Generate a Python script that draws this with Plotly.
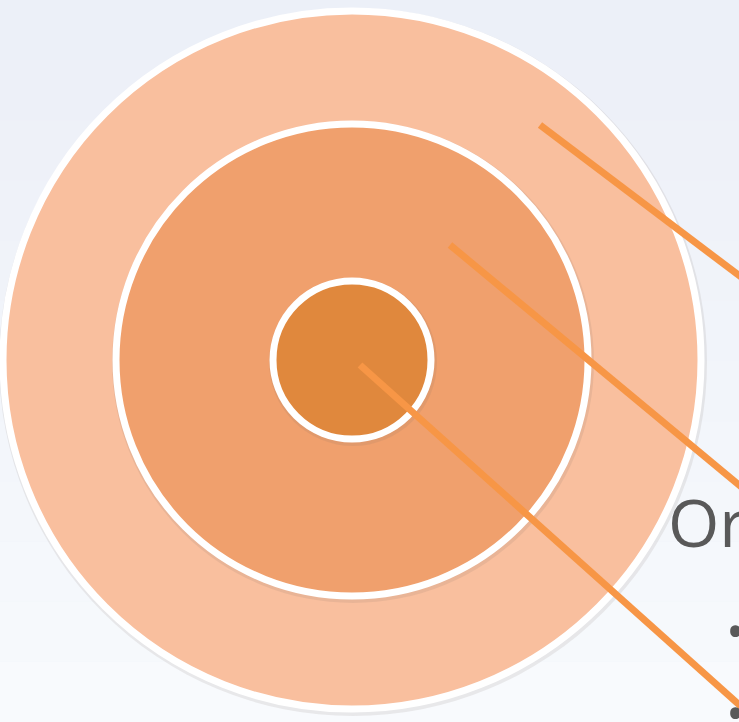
import plotly.graph_objects as go

# Diagram data
ring_names = ["outer", "middle", "inner"]
ring_radii = [349, 236, 79]
ring_colors = ["#F9BF9E", "#F0A06D", "#E0883D"]
center = (352, 360)

# leader lines: start (inside ring) and end (off to the right)
line_starts = [(540, 125), (450, 245), (360, 365)]
line_ends = [(745, 280), (745, 490), (745, 710)]

labels = ["Or", "•", "•"]
label_pos = [(666, 521), (724, 630), (724, 712)]
label_sizes = [66, 50, 50]

W, H = 739, 722
fig = go.Figure()

shapes = []
# background gradient imitation
bands = 12
for i in range(bands):
    t = i / (bands - 1)
    r = int(236 + (248 - 236) * t)
    g = int(240 + (250 - 240) * t)
    b = int(248 + (253 - 248) * t)
    shapes.append(dict(type="rect", xref="x", yref="y", x0=0, x1=W,
                       y0=H * i / bands, y1=H * (i + 1) / bands,
                       fillcolor=f"rgb({r},{g},{b})", line=dict(width=0), layer="below"))

cx, cy = center
for rad, col in zip(ring_radii, ring_colors):
    # soft shadow
    shapes.append(dict(type="circle", xref="x", yref="y",
                       x0=cx - rad - 4, x1=cx + rad + 6, y0=cy - rad - 3, y1=cy + rad + 7,
                       fillcolor="rgba(120,110,100,0.12)", line=dict(width=0)))
    shapes.append(dict(type="circle", xref="x", yref="y",
                       x0=cx - rad, x1=cx + rad, y0=cy - rad, y1=cy + rad,
                       fillcolor=col, line=dict(color="white", width=7)))

for (x0, y0), (x1, y1) in zip(line_starts, line_ends):
    shapes.append(dict(type="line", xref="x", yref="y", x0=x0, y0=y0, x1=x1, y1=y1,
                       line=dict(color="#F79646", width=7)))

annotations = []
for txt, (x, y), sz in zip(labels, label_pos, label_sizes):
    annotations.append(dict(x=x, y=y, xref="x", yref="y", text=txt, showarrow=False,
                            xanchor="left", yanchor="middle",
                            font=dict(family="Open Sans", size=sz, color="#595959")))

fig.update_layout(
    width=W, height=H, margin=dict(l=0, r=0, t=0, b=0),
    paper_bgcolor="#EEF1F8", plot_bgcolor="#EEF1F8",
    xaxis=dict(range=[0, W], visible=False, fixedrange=True),
    yaxis=dict(range=[H, 0], visible=False, fixedrange=True),
    shapes=shapes, annotations=annotations, showlegend=False,
)
fig.write_html("out.html", config={"displayModeBar": False},
               post_script="document.body.style.margin='0';document.body.style.overflow='hidden';")
